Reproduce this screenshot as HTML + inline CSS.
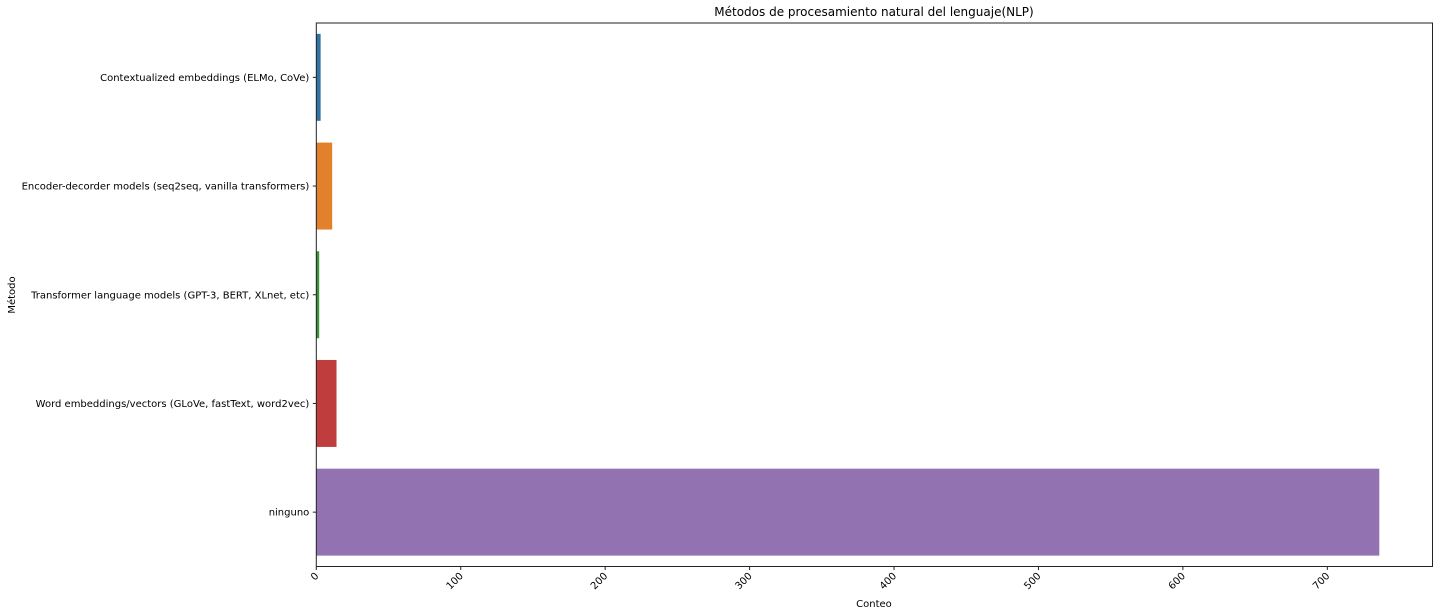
<!DOCTYPE html>
<html><head><meta charset="utf-8"><style>
body{margin:0;background:#fff;}
svg{display:block;font-family:"DejaVu Sans","Liberation Sans",sans-serif;}
</style></head><body>
<svg id="chart" width="1438" height="615">
<text x="874" y="16" font-size="12" text-anchor="middle" fill="#000">Métodos de procesamiento natural del lenguaje(NLP)</text>
<text x="874" y="607" font-size="10" text-anchor="middle" fill="#000">Conteo</text>
<text x="15" y="295" font-size="10" text-anchor="middle" fill="#000" transform="rotate(-90 15 295)">Método</text>
<g id="bars"></g><g id="ticks"></g>
<rect x="316.3" y="23" width="1116.2" height="543.5" fill="none" stroke="#222" stroke-width="1"/>
</svg>
<script>
const categories=["Contextualized embeddings (ELMo, CoVe)","Encoder-decorder models (seq2seq, vanilla transformers)","Transformer language models (GPT-3, BERT, XLnet, etc)","Word embeddings/vectors (GLoVe, fastText, word2vec)","ninguno"];
const counts=[3,11,2,14,736];
const xTicks=[0,100,200,300,400,500,600,700];
const colors=["#3274a1","#e1812c","#3a923a","#c03d3e","#9372b2"];
const NS="http://www.w3.org/2000/svg";
const L=316.3,T=23,H=543.5;
const xs=v=>L+v*1.4443;
const band=H/categories.length;
const yc=i=>T+band*(i+0.5);
const bars=document.getElementById('bars'),ticks=document.getElementById('ticks');
function mk(t,a,p){const e=document.createElementNS(NS,t);for(const k in a)e.setAttribute(k,a[k]);p.appendChild(e);return e;}
categories.forEach((c,i)=>{
 const r=mk('rect',{x:L,y:yc(i)-band*0.4,width:xs(counts[i])-L,height:band*0.8,fill:colors[i]},bars);
 
 
 const tk=mk('line',{x1:L-3.5,x2:L,y1:yc(i),y2:yc(i),stroke:'#222'},ticks);
 
 
 const t=mk('text',{x:L-7,y:yc(i)+3.5,'font-size':10,'text-anchor':'end',fill:'#000'},ticks);
 t.textContent=c;
 
 
});
xTicks.forEach(v=>{
 const x=xs(v);
 const tk=mk('line',{x1:x,x2:x,y1:T+H,y2:T+H+3.5,stroke:'#222'},ticks);
 
 
 const t=mk('text',{x:x+3,y:T+H+10,'font-size':10,'text-anchor':'end',fill:'#000',transform:`rotate(-45 ${x+3} ${T+H+10})`},ticks);
 t.textContent=v;
 
 
});
</script>
</body></html>
